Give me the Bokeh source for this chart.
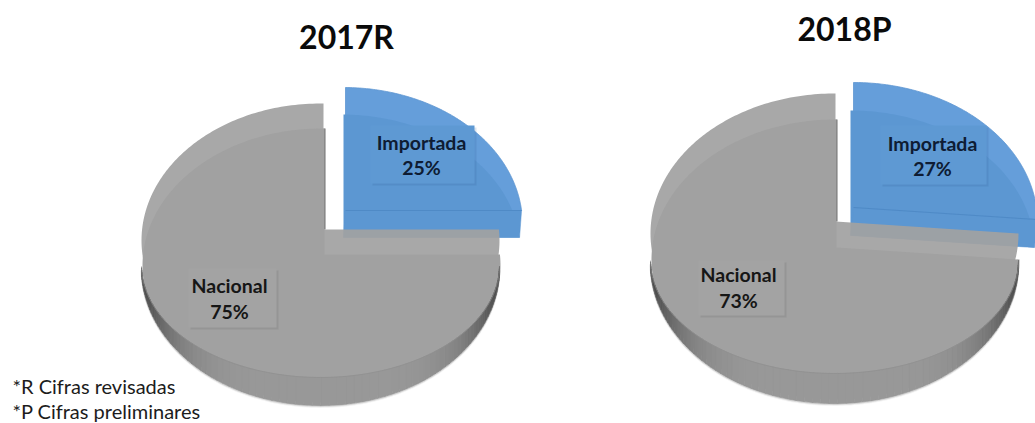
import numpy as np
from bokeh.plotting import figure
from bokeh.models import Range1d
from bokeh.core.properties import value
from bokeh.embed import file_html
from bokeh.resources import INLINE

years = ["2017R", "2018P"]
categories = ["Importada", "Nacional"]
importada = [25, 27]
nacional = [75, 73]
footnotes = ["*R Cifras revisadas", "*P Cifras preliminares"]

W, H = 1035, 423
LAYOUT = [
    dict(title=(346, 36), apex=(323, 229), c=(320, 240), r=(179, 137), shift=(1, 25), wall=28, cut=2,
         b_apex=(345, 210), b_c=(343, 224), b_shift=(-2, 27),
         b_box=(370, 474, 125, 183), n_box=(188, 276, 268, 327),
         b_txt=(421, 142, 167), n_txt=(229, 285, 311)),
    dict(title=(844, 28), apex=(835, 221), c=(834, 233), r=(184, 140), shift=(1, 26), wall=30, cut=2,
         b_apex=(853, 207), b_c=(853, 222), b_shift=(-3, 28),
         b_box=(880, 986, 125, 184), n_box=(698, 784, 260, 315),
         b_txt=(932, 143, 168), n_txt=(738, 274, 300)),
]
K = 0.52

p = figure(width=W, height=H, output_backend="svg", toolbar_location=None,
           x_range=Range1d(0, W), y_range=Range1d(H, 0),
           min_border=0, outline_line_color=None, background_fill_color="white")
p.xaxis.visible = False
p.yaxis.visible = False
p.grid.visible = False


def arc(apex, c, r, t0, t1, n=160):
    """Points on the ellipse seen along rays from the (off-centre) apex, t in share %."""
    th = np.radians(np.linspace(t0, t1, n) * 3.6)
    dx, dy = np.sin(th), -K * np.cos(th)
    ox, oy = (apex[0] - c[0]) / r[0], (apex[1] - c[1]) / r[1]
    ux, uy = dx / r[0], dy / r[1]
    a = ux**2 + uy**2
    b = 2 * (ox * ux + oy * uy)
    cc = ox**2 + oy**2 - 1
    s = (-b + np.sqrt(b**2 - 4 * a * cc)) / (2 * a)
    return apex[0] + s * dx, apex[1] + s * dy


def wedge(apex, xs, ys, sh=(0, 0)):
    return np.r_[apex[0], xs] + sh[0], np.r_[apex[1], ys] + sh[1]


def rect(x0, x1, y0, y1):
    return [x0, x1, x1, x0], [y0, y0, y1, y1]


for i, L in enumerate(LAYOUT):
    imp, nac = importada[i], nacional[i]
    # ---- Importada slice
    ax, ay = L["b_apex"]
    sdx, sdy = L["b_shift"]
    bx, by = arc(L["b_apex"], L["b_c"], L["r"], 0, imp)
    fx, fy = wedge(L["b_apex"], bx, by)
    p.patch(fx, fy, fill_color="#659eda", line_color="#5f97d2", line_width=0.8)
    sx, sy = wedge(L["b_apex"], bx, by, L["b_shift"])
    p.patch(sx, sy, fill_color="#5c97d2", line_color=None)
    p.patch([ax, bx[-1], bx[-1] + sdx, ax + sdx], [ay, by[-1], by[-1] + sdy, ay + sdy],
            fill_color="#5c97d2", line_color="#5c97d2", line_width=0.5)
    p.line([ax, bx[-1]], [ay, by[-1]], line_color="#4f8ac6", line_width=1)

    # ---- Nacional slice
    nx, ny = arc(L["apex"], L["c"], L["r"], imp, imp + nac, 320)
    x0, y0 = L["apex"]
    p.patch(*rect(x0, x0 + L["cut"], ny[-1] + L["shift"][1], y0), fill_color="#707070", line_color=None)
    fx, fy = wedge(L["apex"], nx, ny)
    p.patch(fx, fy, fill_color="#a1a1a1", fill_alpha=0.93, line_color=None)
    sx, sy = wedge(L["apex"], nx, ny, L["shift"])
    p.patch(sx, sy, fill_color="#a1a1a1", line_color=None)

    # ---- outer wall: thin at the sides, full depth at the front
    xc, rx = L["c"][0], L["r"][0]
    yc, ry = L["c"][1], L["r"][1]
    below = ny >= yc
    wx, wy = nx[below], ny[below]
    inner_c = yc + L["wall"] - 3
    inner_r = ry - L["wall"] + 3
    wi = inner_c + inner_r * np.sqrt(np.clip(1 - ((wx - xc) / rx) ** 2, 0, 1))
    wo = wy + L["wall"]
    step = 2
    xs_q, ys_q, cols = [], [], []
    for j in range(0, len(wx) - step, step):
        u = abs((wx[j] + wx[j + step]) / 2 - xc) / rx
        xs_q.append([wx[j], wx[j + step], wx[j + step], wx[j]])
        ys_q.append([wi[j], wi[j + step], wo[j + step], wo[j]])
        g = int(np.clip(153 - 85 * u**5, 62, 160))
        cols.append("#%02x%02x%02x" % (g, g, g))
    p.patches(xs_q, ys_q, fill_color=cols, line_color=cols, line_width=0.7)
    p.line(wx, wi, line_color="#8f8f8f", line_width=0.7)
    p.line(wx, wo + 0.6, line_color="#808080", line_alpha=0.3, line_width=1.6)
    p.line(wx, wo + 1.6, line_color="#909090", line_alpha=0.12, line_width=1.6)

    # ---- data-label boxes
    for key, col, sc in [("b_box", "#5e99d3", "#2a5a90"), ("n_box", "#a3a3a3", "#555555")]:
        a, b, c, d = L[key]
        p.patch(*rect(a + 2, b + 2, c + 2, d + 2), fill_color=sc, fill_alpha=0.16, line_color=None)
        p.patch(*rect(a, b, c, d), fill_color=col, line_color=None)

    # ---- texts
    tx, t1, t2 = L["b_txt"]
    p.text([tx, tx], [t1, t2], text=[categories[0], f"{imp}%"], text_align="center", text_baseline="middle",
           text_font=value("Lato"), text_font_style="bold", text_font_size="19.5px", text_color="#0e1c33")
    tx, t1, t2 = L["n_txt"]
    p.text([tx, tx], [t1, t2], text=[categories[1], f"{nac}%"], text_align="center", text_baseline="middle",
           text_font=value("Lato"), text_font_style="bold", text_font_size="19.5px", text_color="#161616")
    p.text([L["title"][0]], [L["title"][1]], text=[years[i]], text_align="center", text_baseline="middle",
           text_font=value("Lato"), text_font_style="bold", text_font_size="32px", text_color="#0a0a0a")

p.text([12, 12], [385, 410], text=footnotes, text_align="left", text_baseline="middle",
       text_font=value("Lato"), text_font_size="20px", text_color="#1c1c1c")

open("out.html", "w").write(file_html(p, INLINE))
